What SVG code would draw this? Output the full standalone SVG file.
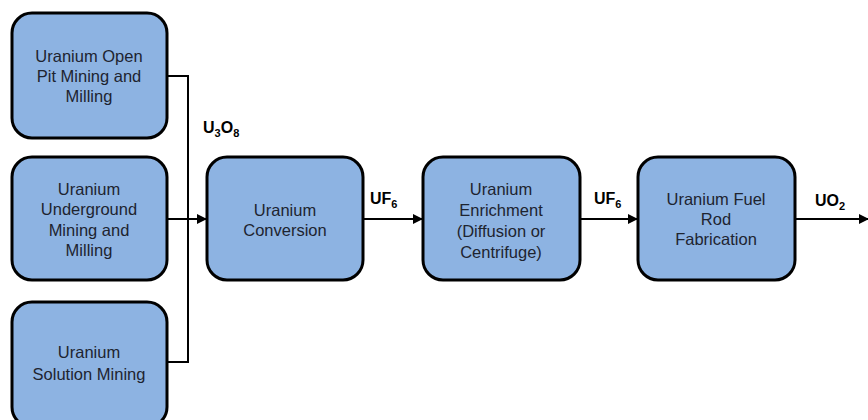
<svg xmlns="http://www.w3.org/2000/svg" width="868" height="420" viewBox="0 0 868 420">
<defs>
<style>
.box{fill:#8db3e2;stroke:#000;stroke-width:3}
.t{font-family:"Liberation Sans",Arial,sans-serif;font-size:16.5px;fill:#1e2430;text-anchor:middle}
.lbl{font-family:"Liberation Sans",Arial,sans-serif;font-size:16px;font-weight:bold;fill:#000}
.c{fill:none;stroke:#000;stroke-width:2}
</style>
<marker id="ah" markerWidth="10" markerHeight="10" refX="9" refY="5" orient="auto" markerUnits="userSpaceOnUse">
<path d="M0,0 L10,5 L0,10 z" fill="#000"/>
</marker>
</defs>
<rect width="868" height="420" fill="#fff"/>
<g id="connectors">
<polyline class="c" points="167,76 188,76 188,362 167,362"/>
<line class="c" x1="167" y1="219" x2="206" y2="219" marker-end="url(#ah)"/>
<line class="c" x1="363" y1="219" x2="422" y2="219" marker-end="url(#ah)"/>
<line class="c" x1="580" y1="219" x2="637" y2="219" marker-end="url(#ah)"/>
<line class="c" x1="795" y1="219" x2="868" y2="219" marker-end="url(#ah)"/>
<text class="lbl" x="203" y="133" font-size="17">U<tspan font-size="11" dy="4">3</tspan><tspan dy="-4">O</tspan><tspan font-size="11" dy="4">8</tspan></text>
<text class="lbl" x="370" y="204">UF<tspan font-size="11" dy="4">6</tspan></text>
<text class="lbl" x="594" y="204">UF<tspan font-size="11" dy="4">6</tspan></text>
<text class="lbl" x="815" y="206" font-weight="normal" font-size="17">UO<tspan font-size="11" dy="4">2</tspan></text>
</g>
<g id="open-pit">
<rect class="box" x="12" y="13" width="155" height="125" rx="20"/>
<text class="t" x="89" y="62">Uranium Open</text>
<text class="t" x="89" y="82">Pit Mining and</text>
<text class="t" x="89" y="102">Milling</text>
</g>
<g id="underground">
<rect class="box" x="12" y="157" width="155" height="123" rx="20"/>
<text class="t" x="89" y="195">Uranium</text>
<text class="t" x="89" y="215">Underground</text>
<text class="t" x="89" y="236">Mining and</text>
<text class="t" x="89" y="256">Milling</text>
</g>
<g id="solution">
<rect class="box" x="12" y="302" width="155" height="125" rx="20"/>
<text class="t" x="89" y="358">Uranium</text>
<text class="t" x="89" y="380">Solution Mining</text>
</g>
<g id="conversion">
<rect class="box" x="207" y="157" width="156" height="123" rx="20"/>
<text class="t" x="285" y="216">Uranium</text>
<text class="t" x="285" y="236">Conversion</text>
</g>
<g id="enrichment">
<rect class="box" x="423" y="157" width="157" height="123" rx="20"/>
<text class="t" x="501" y="195">Uranium</text>
<text class="t" x="501" y="216">Enrichment</text>
<text class="t" x="501" y="237">(Diffusion or</text>
<text class="t" x="501" y="258">Centrifuge)</text>
</g>
<g id="fuel-rod">
<rect class="box" x="638" y="157" width="157" height="123" rx="20"/>
<text class="t" x="716" y="205">Uranium Fuel</text>
<text class="t" x="716" y="225">Rod</text>
<text class="t" x="716" y="245">Fabrication</text>
</g>
</svg>
